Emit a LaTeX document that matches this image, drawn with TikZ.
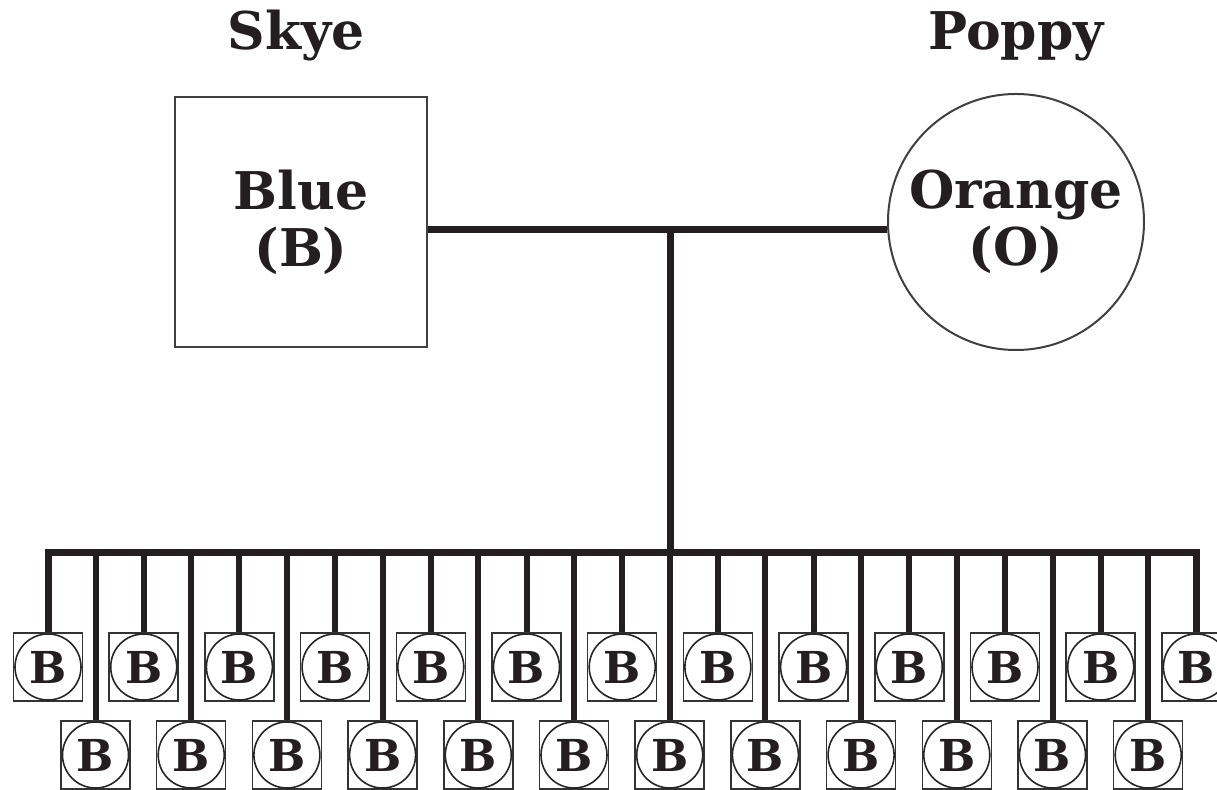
\documentclass[tikz,border=0pt]{standalone}
\usepackage{fontspec}
\setmainfont{DejaVu Serif}
\definecolor{ink}{HTML}{231F20}
\begin{document}
\begin{tikzpicture}[x=0.5pt,y=-0.5pt,
  lbl/.style={font=\fontsize{26}{28}\selectfont\bfseries, text=ink, inner sep=0pt},
  parentsq/.style={draw=black!75, line width=1pt, minimum width=126pt, minimum height=125pt, inner sep=0pt, align=center, text=ink, font=\fontsize{26}{28.5}\selectfont\bfseries},
  parentci/.style={circle, draw=black!75, line width=1pt, minimum size=128pt, inner sep=0pt, align=center, text=ink, font=\fontsize{26}{28.5}\selectfont\bfseries},
  kidbox/.style={draw=black!80, line width=0.75pt, minimum width=34.5pt, minimum height=34pt, inner sep=0pt},
  kidcirc/.style={circle, draw=black!85, line width=0.8pt, minimum size=33pt, inner sep=0pt, text=ink, font=\fontsize{22}{24}\selectfont\bfseries},
  thick line/.style={line width=3.5pt, draw=ink},
  drop/.style={line width=3pt, draw=ink}
]
\useasboundingbox (0,0) rectangle (1217,790);

\node[lbl] (skye) at (296,36) {Skye};
\node[lbl] (poppy) at (1016,36) {Poppy};
\node[parentsq] (blue) at (301,222) {Blue\\(B)};
\node[parentci] (orange) at (1016,222) {Orange\\(O)};

\coordinate (mid) at (670,230);
\coordinate (bus) at (670,553);
\draw[thick line] (blue.east |- mid) -- (orange.west |- mid);
\draw[thick line] (mid) -- (bus);

% children
\foreach \i in {0,...,12} {
  \node[kidbox] (t\i) at ({48+95.7*\i},667) {};
  \node[kidcirc] (tc\i) at (t\i) {B};
}
\foreach \i in {0,...,11} {
  \node[kidbox] (b\i) at ({95.5+95.7*\i},755) {};
  \node[kidcirc] (bc\i) at (b\i) {B};
}

% bus
\draw[thick line, line join=miter] (t0.north) -- (t0.north |- bus) -- (t12.north |- bus) -- (t12.north);
\foreach \i in {1,...,11} {
  \draw[drop] (t\i.north |- bus) -- (t\i.north);
}
\foreach \i in {0,...,11} {
  \draw[drop] (b\i.north |- bus) -- (b\i.north);
}
\end{tikzpicture}
\end{document}
